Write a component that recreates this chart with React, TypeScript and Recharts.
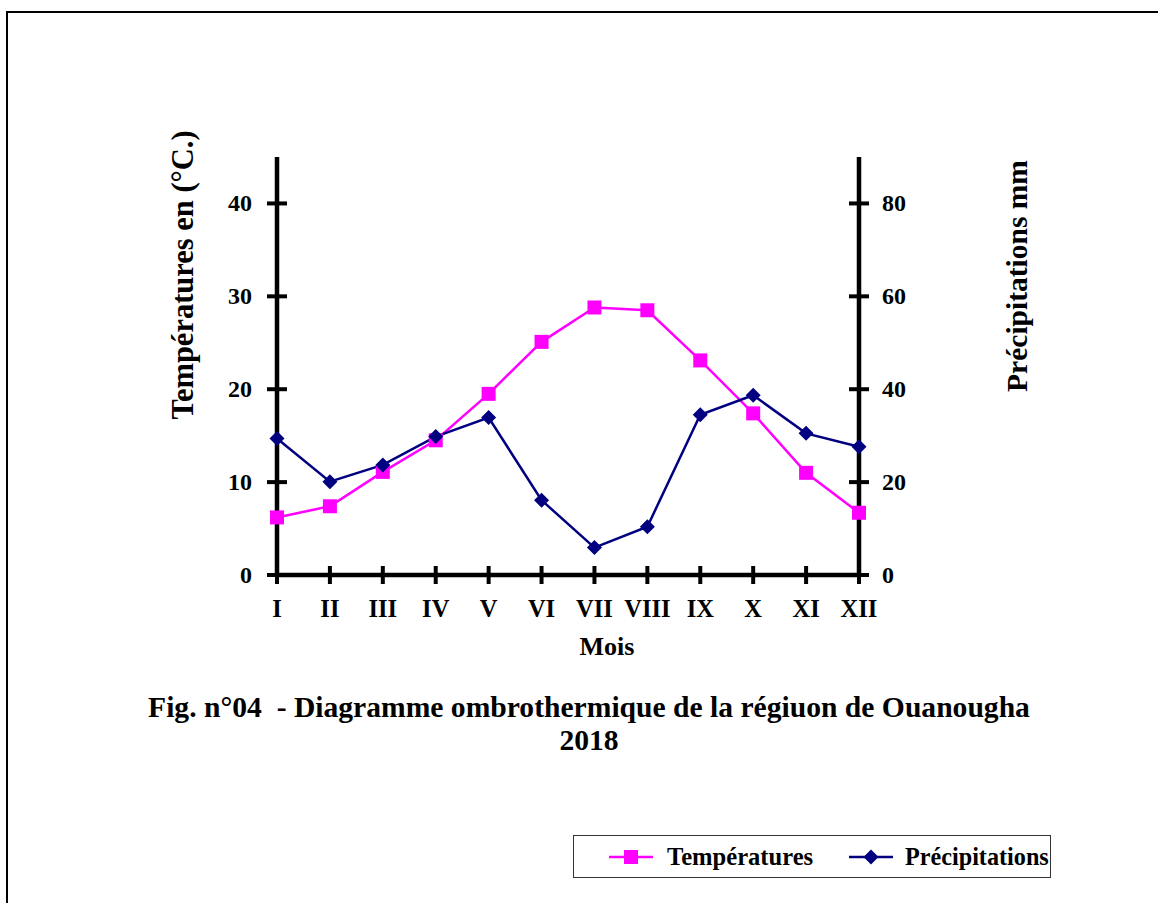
import { LineChart, Line, XAxis, YAxis, Legend } from "recharts";

const months = ["I", "II", "III", "IV", "V", "VI", "VII", "VIII", "IX", "X", "XI", "XII"];
const temperatures = [6.2, 7.4, 11.1, 14.5, 19.5, 25.1, 28.8, 28.5, 23.1, 17.4, 11.0, 6.7];
const precipitations = [29.4, 20.1, 23.7, 29.8, 33.9, 16.1, 5.9, 10.4, 34.5, 38.7, 30.5, 27.6];
const tempTicks = [0, 10, 20, 30, 40];
const precipTicks = [0, 20, 40, 60, 80];

const data = months.map((m, i) => ({
  mois: m,
  temp: temperatures[i],
  precip: precipitations[i],
}));

const FONT = '"Liberation Serif", "Times New Roman", serif';
const MAGENTA = "#FF00FF";
const NAVY = "#000080";

const LeftTick = ({ x, y, payload }: any) => (
  <g>
    <line x1={x - 10} x2={x + 10} y1={y} y2={y} stroke="#000" strokeWidth={4} />
    <text x={x - 25} y={y + 8} textAnchor="end" fontFamily={FONT} fontWeight="bold" fontSize={24} fill="#000">
      {payload.value}
    </text>
  </g>
);

const RightTick = ({ x, y, payload }: any) => (
  <g>
    <line x1={x - 10} x2={x + 10} y1={y} y2={y} stroke="#000" strokeWidth={4} />
    <text x={x + 23} y={y + 8} textAnchor="start" fontFamily={FONT} fontWeight="bold" fontSize={24} fill="#000">
      {payload.value}
    </text>
  </g>
);

const MonthTick = ({ x, y, payload }: any) => (
  <g>
    <line x1={x} x2={x} y1={y - 9} y2={y + 9} stroke="#000" strokeWidth={4} />
    <text x={x} y={y + 42} textAnchor="middle" fontFamily={FONT} fontWeight="bold" fontSize={24.5} fill="#000">
      {payload.value}
    </text>
  </g>
);

const SquareDot = (props: any) => {
  const { cx, cy, index } = props;
  return <rect key={`sq-${index}`} x={cx - 7} y={cy - 7} width={14} height={14} fill={MAGENTA} />;
};

const DiamondDot = (props: any) => {
  const { cx, cy, index } = props;
  return (
    <path
      key={`dm-${index}`}
      d={`M${cx},${cy - 7.5} L${cx + 7.5},${cy} L${cx},${cy + 7.5} L${cx - 7.5},${cy} Z`}
      fill={NAVY}
    />
  );
};

const LegendBox = () => (
  <div
    style={{
      boxSizing: "border-box",
      width: 478,
      height: 43,
      border: "1px solid #333",
      background: "#fff",
      position: "relative",
    }}
  >
    <svg width={478} height={41} style={{ position: "absolute", left: 0, top: 0 }}>
      <line x1={35} x2={79} y1={21} y2={21} stroke={MAGENTA} strokeWidth={2.5} />
      <rect x={50} y={14} width={14} height={14} fill={MAGENTA} />
      <text x={93} y={29} fontFamily={FONT} fontWeight="bold" fontSize={24.6}>Températures</text>
      <line x1={275} x2={319} y1={21} y2={21} stroke={NAVY} strokeWidth={2.5} />
      <path d="M297,13.5 L304.5,21 L297,28.5 L289.5,21 Z" fill={NAVY} />
      <text x={331} y={29} fontFamily={FONT} fontWeight="bold" fontSize={24.2}>Précipitations</text>
    </svg>
  </div>
);

export default function App() {
  return (
    <div
      style={{
        position: "absolute",
        left: 0,
        top: 0,
        width: 1158,
        height: 903,
        overflow: "hidden",
        background: "#fff",
      }}
    >
      <div
        style={{
          position: "absolute",
          left: 6,
          top: 11,
          width: 1200,
          height: 1000,
          border: "2px solid #000",
        }}
      />
      <div style={{ position: "absolute", left: 0, top: 0 }}>
        <LineChart
          width={1158}
          height={903}
          data={data}
          margin={{ top: 157, right: 239, left: 217, bottom: 298 }}
        >
          <XAxis
            dataKey="mois"
            interval={0}
            tickSize={0}
            tickMargin={0}
            height={30}
            axisLine={{ stroke: "#000", strokeWidth: 4.5 }}
            tick={<MonthTick />}
            label={{
              content: () => (
                <text x={607} y={655} textAnchor="middle" fontFamily={FONT} fontWeight="bold" fontSize={26} fill="#000">
                  Mois
                </text>
              ),
            }}
          />
          <YAxis
            yAxisId="temp"
            orientation="left"
            width={60}
            domain={[0, 45]}
            ticks={tempTicks}
            interval={0}
            tickSize={0}
            tickMargin={0}
            axisLine={{ stroke: "#000", strokeWidth: 4.5 }}
            tick={<LeftTick />}
            label={{
              content: () => (
                <text
                  transform="translate(193,275) rotate(-90)"
                  textAnchor="middle"
                  fontFamily={FONT}
                  fontWeight="bold"
                  fontSize={30.5}
                  fill="#000"
                >
                  Températures en (°C.)
                </text>
              ),
            }}
          />
          <YAxis
            yAxisId="precip"
            orientation="right"
            width={60}
            domain={[0, 90]}
            ticks={precipTicks}
            interval={0}
            tickSize={0}
            tickMargin={0}
            axisLine={{ stroke: "#000", strokeWidth: 4.5 }}
            tick={<RightTick />}
            label={{
              content: () => (
                <text
                  transform="translate(1027,276) rotate(-90)"
                  textAnchor="middle"
                  fontFamily={FONT}
                  fontWeight="bold"
                  fontSize={29.5}
                  fill="#000"
                >
                  Précipitations mm
                </text>
              ),
            }}
          />
          <Legend
            verticalAlign="middle"
            align="center"
            layout="horizontal"
            wrapperStyle={{ left: 573, top: 835, width: 478, height: 43 }}
            content={() => <LegendBox />}
          />
          <Line
            yAxisId="temp"
            dataKey="temp"
            name="Températures"
            stroke={MAGENTA}
            strokeWidth={2.5}
            dot={SquareDot}
            activeDot={false}
            isAnimationActive={false}
          />
          <Line
            yAxisId="precip"
            dataKey="precip"
            name="Précipitations"
            stroke={NAVY}
            strokeWidth={2.5}
            dot={DiamondDot}
            activeDot={false}
            isAnimationActive={false}
          />
        </LineChart>
      </div>
      <div
        style={{
          position: "absolute",
          left: 89,
          width: 1000,
          top: 691,
          textAlign: "center",
          fontFamily: FONT,
          fontWeight: "bold",
          fontSize: 29.6,
          lineHeight: "33.4px",
          whiteSpace: "pre",
          color: "#000",
        }}
      >
        {"Fig. n°04  - Diagramme ombrothermique de la régiuon de Ouanougha\n2018"}
      </div>
    </div>
  );
}
